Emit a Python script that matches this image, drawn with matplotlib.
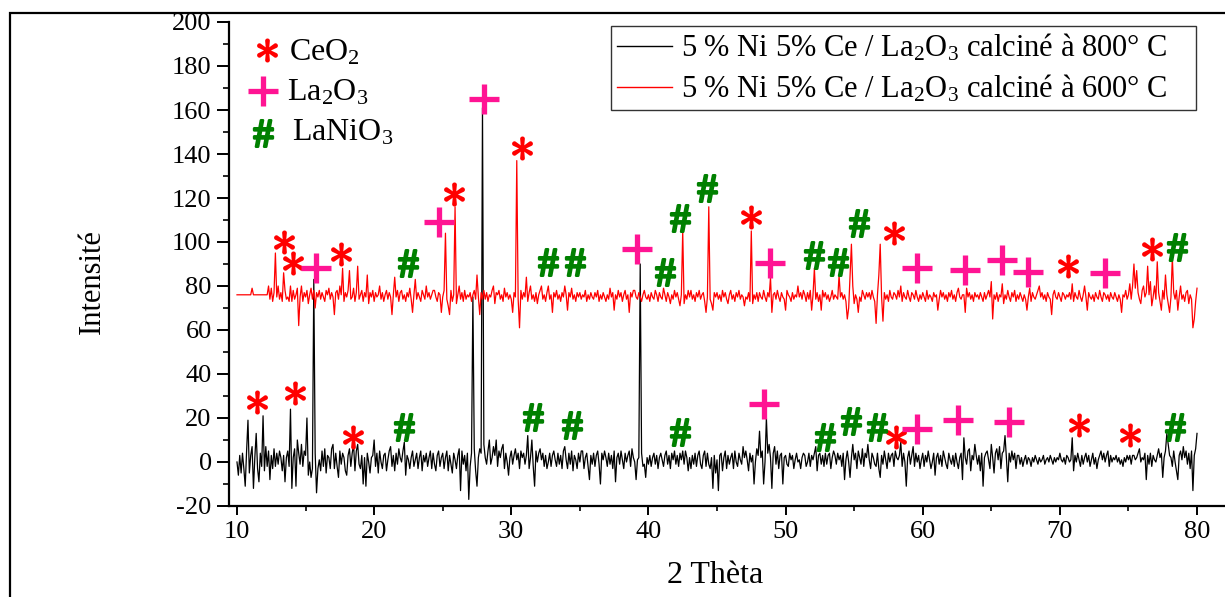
import numpy as np
import matplotlib
matplotlib.use("Agg")
from matplotlib import pyplot as plt
from matplotlib.lines import Line2D
from matplotlib.patches import Rectangle
from matplotlib.ticker import MultipleLocator

plt.rcParams['font.family'] = ['Liberation Serif', 'DejaVu Serif']
plt.rcParams['mathtext.fontset'] = 'custom'
plt.rcParams['mathtext.rm'] = 'Liberation Serif'
plt.rcParams['mathtext.it'] = 'Liberation Serif:italic'
plt.rcParams['mathtext.bf'] = 'Liberation Serif:bold'
plt.rcParams['axes.unicode_minus'] = False

# ----------------------------------------------------------------------------------------------- #
# Data (one row per degree: x.0 ... x.9)

two_theta = np.round(np.arange(10.0, 80.05, 0.1), 1)

black_800_rows = [
    [0, -6, 3, -5, 4, -3, -11, 5, 19, -5],       # 10
    [3, 7, -12, 2, 13, -3, -9, 4, -2, 21],       # 11
    [-4, 7, -2, 5, -8, 3, -3, 6, -2, 4],         # 12
    [-1, 5, 2, -4, 3, -9, 2, 5, -2, 24],         # 13
    [-12, 2, 6, -11, 10, 4, -1, 8, -2, 5],       # 14
    [3, 20, -6, 0, -7, -3, 83, 4, -14, -3],      # 15
    [1, -4, 5, -2, 6, -5, 3, 2, -3, 6],          # 16
    [8, -3, 4, -2, -7, 5, -1, 4, 2, -4],         # 17
    [-6, 3, 6, -2, 4, 8, -4, 5, 8, -1],          # 18
    [-3, 3, -10, 2, -11, 4, 0, -5, 2, 3],        # 19
    [10, -2, 4, -5, 5, 0, -3, 3, 4, -4],         # 20
    [1, 5, 7, -2, 3, -4, 4, -1, 6, 2],           # 21
    [0, 5, 9, -6, 3, 1, -3, 2, 5, -2],           # 22
    [1, 4, -3, 2, 5, -4, 3, 0, 4, -2],           # 23
    [2, 5, -3, 4, -1, -4, 3, 5, -2, 2],          # 24
    [4, -3, 2, 5, -4, 3, -1, -5, 4, 1],          # 25
    [-3, 3, 6, -13, 5, -1, 3, -4, 4, -17],       # 26
    [-2, 4, 75, 6, -4, -11, 2, 6, 4, 161],       # 27
    [8, 2, -1, 5, 10, -1, 2, 7, 3, 10],          # 28
    [-2, 5, 2, 6, 8, -3, 4, 0, -6, 2],           # 29
    [5, -1, 3, 6, 1, 4, -3, 5, 2, 4],            # 30
    [-1, 3, 12, -3, 2, 10, -2, -11, 5, 0],       # 31
    [4, 6, 1, 4, -2, 3, -3, 0, 4, -2],           # 32
    [3, 5, 1, -2, 4, -1, 3, -3, 5, 7],           # 33
    [1, -3, 4, -1, 5, -4, 3, 1, -3, 4],          # 34
    [0, 5, 5, -3, 2, 4, -2, -8, 3, -1],          # 35
    [4, -2, 3, 5, -1, -10, 4, 1, 5, 2],          # 36
    [-2, 4, -1, 3, -3, 5, -9, 2, 4, -1],         # 37
    [5, 1, -3, 4, 0, 3, 5, -2, 6, 2],            # 38
    [0, -8, 1, 2, 90, 4, -2, -1, -7, 2],         # 39
    [-1, 3, -2, 2, 4, -1, 3, -3, 2, 4],          # 40
    [1, -2, 3, 5, -1, 3, -3, 4, 1, 5],           # 41
    [-1, 3, -2, 4, 1, 5, -1, 5, 2, -4],          # 42
    [2, -3, 3, -1, 4, -2, 3, 5, -1, -3],         # 43
    [3, 5, -2, 4, -1, -3, 2, -12, 3, -5],        # 44
    [1, -13, 3, 4, -4, 2, 5, -3, 3, -1],         # 45
    [2, 4, -3, 5, 0, -2, 4, 1, -1, 7],           # 46
    [2, 5, 1, -4, 4, 0, 3, -10, 0, 6],           # 47
    [3, 14, 2, 5, -10, 0, 20, 4, 8, 2],          # 48
    [-12, 4, 7, -1, 5, -3, 3, 4, -10, 2],        # 49
    [3, -1, -2, 4, 1, 3, -3, 1, 4, 0],           # 50
    [1, -3, 2, 4, 3, -2, 0, 4, -2, 3],           # 51
    [1, 4, 7, -4, 3, 4, -1, 3, -2, 4],           # 52
    [-1, 3, 4, -3, 2, 5, 3, -1, 4, 1],           # 53
    [3, -2, 4, -8, 1, 5, 0, -7, 2, 8],           # 54
    [1, 4, -3, 5, 2, -1, 6, -2, 4, 2],           # 55
    [8, 1, -3, 4, 2, -1, -2, 4, -3, -7],         # 56
    [3, -1, 5, 1, -3, 4, 0, 3, 4, -2],           # 57
    [5, 2, 1, 3, 9, -2, 4, 0, -11, 2],           # 58
    [5, -1, 3, 7, -2, 4, 0, 3, -3, 1],           # 59
    [4, -2, 3, 0, 5, 1, -3, 0, 4, -6],           # 60
    [2, 4, -1, 3, -2, 5, 2, -1, -3, 4],          # 61
    [1, -1, 3, -2, 4, 0, -3, 2, 4, -8],          # 62
    [11, 2, -1, 5, 6, -4, 3, 1, 8, 3],           # 63
    [-1, 3, -4, 4, -11, 2, 4, 5, 1, -3],         # 64
    [8, 2, -5, 4, 6, 1, 7, -3, 4, 5],            # 65
    [12, 2, -9, 4, 0, 5, 1, 4, -3, 3],           # 66
    [3, -1, 2, -2, 1, 3, -1, 2, 1, -2],          # 67
    [2, 0, 3, 1, -1, 2, 0, 1, 3, -1],            # 68
    [1, 2, 0, 3, 1, -1, 2, 0, 2, 1],             # 69
    [4, 1, 0, 2, -1, 3, 2, 0, 1, 11],            # 70
    [-4, 3, 0, 4, 1, -2, 3, -1, 2, 4],           # 71
    [0, 3, -2, 1, 4, -1, 2, -3, 1, 3],           # 72
    [5, 1, 4, 0, 3, 5, -2, 3, 0, 2],             # 73
    [1, 3, 0, 2, -1, 1, -2, 2, 0, 3],            # 74
    [1, 3, -1, 3, 3, 1, 2, 4, 6, 0],             # 75
    [2, 1, 4, -8, 3, -1, 4, -2, 3, 1],           # 76
    [0, 3, 6, 2, 4, -7, 2, 5, 13, 8],            # 77
    [3, 2, -2, 5, 0, -4, -8, 3, 5, 1],           # 78
    [7, 2, 5, -1, 4, -3, 5, -13, 3, 6],          # 79
    [13],                                        # 80
]

red_600_rows = [
    [76, 76, 76, 76, 76, 76, 76, 76, 76, 76],    # 10
    [76, 79, 76, 76, 76, 76, 76, 76, 76, 76],    # 11
    [76, 76, 76, 80, 74, 79, 73, 77, 95, 75],    # 12
    [80, 74, 77, 73, 86, 78, 74, 75, 73, 80],    # 13
    [73, 78, 74, 76, 79, 62, 75, 80, 73, 77],    # 14
    [75, 78, 72, 76, 79, 74, 78, 70, 77, 75],    # 15
    [78, 74, 77, 75, 73, 78, 76, 79, 74, 77],    # 16
    [75, 67, 77, 78, 74, 80, 76, 88, 73, 77],    # 17
    [75, 78, 87, 74, 75, 79, 73, 77, 89, 74],    # 18
    [76, 78, 73, 77, 75, 85, 72, 77, 75, 78],    # 19
    [73, 77, 75, 76, 80, 74, 77, 73, 76, 78],    # 20
    [74, 77, 75, 67, 76, 84, 75, 78, 73, 77],    # 21
    [78, 74, 76, 73, 77, 75, 79, 74, 68, 76],    # 22
    [83, 74, 77, 75, 73, 78, 76, 74, 80, 75],    # 23
    [77, 74, 76, 78, 78, 75, 73, 77, 76, 68],    # 24
    [75, 78, 104, 74, 71, 67, 78, 73, 76, 116],  # 25
    [72, 76, 80, 74, 77, 73, 78, 74, 76, 75],    # 26
    [77, 73, 76, 78, 74, 85, 75, 67, 77, 74],    # 27
    [78, 74, 77, 73, 76, 75, 78, 80, 72, 77],    # 28
    [76, 78, 74, 76, 73, 79, 75, 77, 74, 76],    # 29
    [74, 68, 77, 75, 137, 74, 61, 78, 74, 77],   # 30
    [75, 84, 73, 77, 80, 74, 76, 73, 77, 72],    # 31
    [76, 78, 80, 74, 76, 73, 77, 80, 74, 76],    # 32
    [68, 77, 75, 78, 74, 76, 73, 77, 75, 80],    # 33
    [76, 69, 77, 75, 79, 74, 76, 73, 77, 75],    # 34
    [77, 74, 76, 75, 78, 73, 76, 74, 77, 75],    # 35
    [74, 77, 75, 78, 73, 76, 74, 77, 75, 73],    # 36
    [76, 74, 79, 75, 77, 69, 76, 74, 78, 75],    # 37
    [77, 73, 76, 78, 74, 76, 68, 77, 75, 78],    # 38
    [78, 75, 74, 77, 75, 73, 76, 78, 75, 74],    # 39
    [76, 73, 77, 75, 74, 78, 76, 73, 77, 75],    # 40
    [74, 79, 76, 73, 77, 75, 72, 76, 74, 78],    # 41
    [75, 77, 74, 71, 76, 105, 72, 76, 74, 78],   # 42
    [75, 78, 74, 76, 73, 77, 75, 78, 74, 76],    # 43
    [77, 73, 68, 75, 116, 74, 72, 69, 77, 75],   # 44
    [77, 74, 76, 73, 78, 75, 77, 74, 72, 76],    # 45
    [78, 74, 76, 73, 77, 75, 78, 74, 76, 75],    # 46
    [71, 75, 74, 77, 73, 105, 72, 76, 74, 77],   # 47
    [73, 77, 75, 74, 78, 75, 73, 77, 75, 84],    # 48
    [68, 76, 77, 74, 78, 75, 73, 77, 75, 74],    # 49
    [69, 78, 76, 75, 73, 77, 74, 76, 75, 80],    # 50
    [75, 77, 74, 78, 76, 73, 77, 74, 78, 69],    # 51
    [76, 88, 74, 77, 73, 76, 69, 78, 75, 77],    # 52
    [74, 76, 73, 75, 78, 74, 76, 75, 74, 85],    # 53
    [75, 77, 74, 76, 73, 65, 70, 85, 99, 80],    # 54
    [72, 76, 74, 68, 75, 73, 78, 76, 74, 77],    # 55
    [75, 77, 74, 78, 75, 73, 63, 76, 85, 99],    # 56
    [75, 64, 77, 74, 76, 73, 78, 75, 74, 77],    # 57
    [76, 74, 78, 75, 80, 73, 77, 75, 74, 78],    # 58
    [75, 73, 77, 76, 74, 78, 75, 73, 76, 74],    # 59
    [77, 75, 73, 78, 74, 76, 75, 73, 77, 75],    # 60
    [76, 69, 74, 78, 75, 77, 74, 76, 73, 77],    # 61
    [75, 78, 74, 76, 73, 77, 79, 75, 74, 76],    # 62
    [76, 68, 79, 75, 77, 74, 76, 73, 77, 75],    # 63
    [76, 74, 77, 75, 73, 77, 74, 76, 78, 75],    # 64
    [82, 65, 76, 74, 77, 73, 76, 75, 81, 72],    # 65
    [76, 74, 78, 75, 73, 77, 75, 78, 73, 76],    # 66
    [74, 77, 75, 73, 76, 74, 69, 75, 79, 73],    # 67
    [77, 75, 74, 76, 78, 80, 75, 77, 74, 76],    # 68
    [73, 77, 75, 74, 67, 76, 78, 75, 74, 77],    # 69
    [75, 73, 77, 76, 74, 76, 75, 77, 74, 81],    # 70
    [73, 77, 75, 74, 78, 75, 73, 76, 80, 75],    # 71
    [69, 77, 75, 74, 76, 73, 77, 75, 74, 78],    # 72
    [75, 73, 77, 76, 74, 76, 73, 77, 75, 74],    # 73
    [77, 75, 73, 76, 74, 68, 76, 75, 78, 74],    # 74
    [76, 81, 74, 80, 90, 79, 87, 77, 74, 72],    # 75
    [78, 80, 75, 77, 89, 76, 82, 71, 75, 80],    # 76
    [74, 91, 77, 73, 69, 78, 74, 85, 76, 72],    # 77
    [68, 75, 93, 77, 74, 78, 69, 75, 80, 74],    # 78
    [76, 73, 77, 78, 72, 76, 74, 61, 65, 73],    # 79
    [79],                                        # 80
]

black_800 = np.concatenate(black_800_rows)
red_600 = np.concatenate(red_600_rows)

series_labels = [
    "5 % Ni 5% Ce / La$_2$O$_3$ calciné à 800° C",
    "5 % Ni 5% Ce / La$_2$O$_3$ calciné à 600° C",
]

# Phase marks above the peaks
ceo2_600_x = [13.4, 14.1, 17.6, 25.8, 30.76, 47.5, 57.9, 70.6, 76.7]
ceo2_600_y = [100, 90.6, 94.5, 121.8, 142.6, 111.2, 104, 89, 96.7]
la2o3_600_x = [15.76, 24.7, 28.0, 39.14, 48.9, 59.6, 63.1, 65.8, 67.7, 73.3]
la2o3_600_y = [88, 109, 165, 97, 90.6, 88, 87.3, 91.8, 86.5, 85.8]
lanio3_600_x = [22.47, 32.65, 34.65, 41.2, 42.3, 44.3, 52.07, 53.8, 55.33, 78.57]
lanio3_600_y = [90.3, 91, 91, 86.5, 110.8, 124.4, 94, 91, 108.5, 97.9]

ceo2_800_x = [11.46, 14.2, 18.44, 58.08, 71.4, 75.1]
ceo2_800_y = [27.4, 31.2, 11.5, 11.5, 16.7, 12.4]
la2o3_800_x = [48.4, 59.6, 62.6, 66.3]
la2o3_800_y = [26.4, 14.8, 19, 18.2]
lanio3_800_x = [22.15, 31.6, 34.4, 42.3, 52.85, 54.75, 56.7, 78.4]
lanio3_800_y = [15.8, 20.6, 16.8, 13.8, 11.5, 18.8, 15.8, 15.9]

# Phase key (top left)
key_names = ["CeO$_2$", "La$_2$O$_3$", "LaNiO$_3$"]
key_marker_x = [12.17, 11.92, 11.92]
key_marker_y = [187.3, 168.8, 149.4]
key_text_x = [13.79, 13.65, 13.99]
key_text_y = [182.7, 164.5, 146]

# ----------------------------------------------------------------------------------------------- #
# Styles

ceo2_style = dict(ls='none', marker=r'$\ast$', ms=16, color='#ff0000', mew=1.3)
la2o3_style = dict(ls='none', marker='+', ms=21, color='#ff1493', mew=3.8)
lanio3_style = dict(ls='none', marker=r'$\#$', ms=19, color='#008000', mew=1.9)
key_styles = [ceo2_style, la2o3_style, lanio3_style]

fig = plt.figure(figsize=(12.25, 5.97), dpi=100)
ax = fig.add_axes([229 / 1225, 1 - 506 / 597, 996 / 1225, 484 / 597])

ax.plot(two_theta, black_800, color='black', lw=0.9)
ax.plot(two_theta, red_600, color='red', lw=0.9)

ax.plot(ceo2_600_x, ceo2_600_y, **ceo2_style)
ax.plot(ceo2_800_x, ceo2_800_y, **ceo2_style)
ax.plot(la2o3_600_x, la2o3_600_y, **la2o3_style)
ax.plot(la2o3_800_x, la2o3_800_y, **la2o3_style)
ax.plot(lanio3_600_x, lanio3_600_y, **lanio3_style)
ax.plot(lanio3_800_x, lanio3_800_y, **lanio3_style)

for name, mx, my, tx, ty, style in zip(key_names, key_marker_x, key_marker_y,
                                        key_text_x, key_text_y, key_styles):
    ax.plot([mx], [my], **style)
    ax.text(tx, ty, name, fontsize=23, va='baseline', ha='left')

# Axes, ticks, labels
ax.set_xlim(9.417, 82.04)
ax.set_ylim(-20, 200)
ax.spines['top'].set_visible(False)
ax.spines['right'].set_visible(False)
ax.spines['left'].set_linewidth(1.6)
ax.spines['bottom'].set_linewidth(1.6)

ax.xaxis.set_major_locator(MultipleLocator(10))
ax.xaxis.set_minor_locator(MultipleLocator(5))
ax.yaxis.set_major_locator(MultipleLocator(20))
ax.yaxis.set_minor_locator(MultipleLocator(10))
ax.tick_params(axis='y', which='major', direction='out', length=8.5, width=1.4, labelsize=19, pad=4)
ax.tick_params(axis='y', which='minor', direction='out', length=4.5, width=1.2)
ax.tick_params(axis='x', which='major', direction='out', length=6.5, width=1.4, labelsize=19, pad=4)
ax.tick_params(axis='x', which='minor', direction='out', length=3.5, width=1.2)

ax.set_xlabel("2 Thèta", fontsize=23)
ax.xaxis.set_label_coords(0.488, -0.1426)
ax.xaxis.label.set_va('center')
ax.set_ylabel("Intensité", fontsize=22)
ax.yaxis.set_label_coords(-0.1376, 0.463)
ax.yaxis.label.set_va('center')

# Series legend (top right)
handles = [Line2D([], [], color='black', lw=1), Line2D([], [], color='red', lw=1)]
leg = ax.legend(handles, series_labels, loc='upper left',
                bbox_to_anchor=(0.3835, 0.8244, 0.5874, 0.1673), mode='expand',
                fontsize=22, frameon=True, fancybox=False, edgecolor='#333333',
                framealpha=1, borderpad=0.2, handlelength=1.8, handletextpad=0.3,
                labelspacing=0.3, borderaxespad=0)
leg.get_frame().set_linewidth(1.0)

# Outer frame of the picture (only left and top edges visible)
fig.add_artist(Rectangle((10 / 1225, -0.05), 1.2, 1 - 13 / 597 + 0.05,
                         transform=fig.transFigure, fill=False, lw=1.6, ec='black'))

fig.savefig("out.png", dpi=100)
